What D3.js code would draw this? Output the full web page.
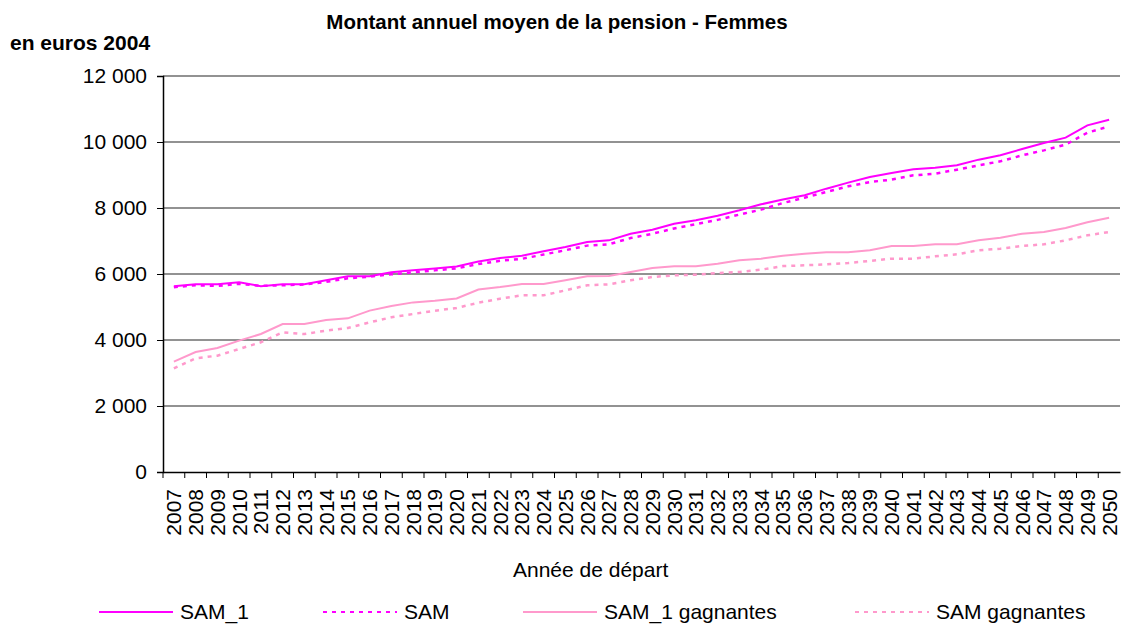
<!DOCTYPE html>
<html>
<head>
<meta charset="utf-8">
<script src="https://cdn.jsdelivr.net/npm/d3@7"></script>
<style>
  body { margin: 0; background: #fff; }
  svg { font-family: Arial, "Liberation Sans", sans-serif; }
</style>
</head>
<body>
<script>
// years on the x axis
var years = d3.range(2007, 2051).map(String);

// series values, euros 2004
var sam1 = [5630, 5690, 5690, 5750, 5630, 5690, 5690, 5810, 5930, 5930, 6050, 6110, 6170, 6230, 6380,
            6485, 6556, 6687, 6818, 6970, 7020, 7222, 7343, 7525, 7626, 7768, 7930, 8111, 8260,
            8384, 8586, 8768, 8940, 9061, 9172, 9222, 9293, 9465, 9596, 9788, 9970, 10131, 10505, 10677];
var sam = [5600, 5660, 5640, 5700, 5640, 5660, 5680, 5760, 5870, 5920, 5990, 6050, 6110, 6170, 6300,
           6400, 6460, 6590, 6720, 6860, 6900, 7090, 7220, 7380, 7510, 7640, 7800, 7950, 8150,
           8313, 8485, 8657, 8788, 8859, 8990, 9040, 9162, 9293, 9414, 9596, 9747, 9919, 10283, 10475];
var sam1Gagnantes = [3344, 3637, 3758, 3980, 4182, 4485, 4485, 4606, 4657, 4890, 5030, 5140, 5190, 5260, 5530,
                     5606, 5697, 5697, 5808, 5930, 5940, 6060, 6182, 6232, 6232, 6313, 6414, 6465, 6550,
                     6616, 6657, 6657, 6718, 6849, 6849, 6900, 6900, 7020, 7101, 7222, 7273, 7394, 7566, 7707];
var samGagnantes = [3142, 3445, 3525, 3728, 3930, 4232, 4180, 4283, 4364, 4535, 4687, 4788, 4889, 4970, 5130,
                    5253, 5354, 5354, 5505, 5657, 5687, 5808, 5909, 5960, 5980, 6030, 6060, 6131, 6240,
                    6263, 6293, 6334, 6394, 6465, 6465, 6535, 6596, 6718, 6768, 6849, 6900, 7020, 7172, 7273];

var yTicks = [0, 2000, 4000, 6000, 8000, 10000, 12000];

var series = [
  {name: "SAM_1", values: sam1, color: "#ff00ff", dash: null},
  {name: "SAM", values: sam, color: "#ff00ff", dash: "4,5"},
  {name: "SAM_1 gagnantes", values: sam1Gagnantes, color: "#ff99cc", dash: null},
  {name: "SAM gagnantes", values: samGagnantes, color: "#ff99cc", dash: "4,5"}
];
// legend layout (line start x)
var legendX = [99, 323, 523, 855];

var W = 1121, H = 624;
var plotL = 163, plotR = 1120, plotT = 76, plotB = 472;

var svg = d3.select("body").append("svg").attr("width", W).attr("height", H);

var x = d3.scaleBand().domain(years).range([plotL, plotR]);
var y = d3.scaleLinear().domain([0, 12000]).range([plotB, plotT]);

var fmt = function(v){ return d3.format(",")(v).replace(/,/g, " "); };

// gridlines
svg.append("g").selectAll("line").data(yTicks.filter(function(d){ return d > 0; }))
  .enter().append("line")
  .attr("x1", plotL).attr("x2", plotR)
  .attr("y1", function(d){ return y(d); }).attr("y2", function(d){ return y(d); })
  .attr("stroke", "#6e6e6e").attr("stroke-width", 1.5);

// y axis
var yAxis = svg.append("g").attr("transform", "translate(" + plotL + ",0)")
  .call(d3.axisLeft(y).tickValues(yTicks).tickFormat(fmt).tickSize(6).tickPadding(10));
yAxis.select(".domain").attr("stroke", "#000").attr("stroke-width", 1.5);
yAxis.selectAll(".tick line").attr("stroke", "#000");
yAxis.selectAll("text").style("font-size", "21px").attr("fill", "#000");

// x axis, ticks on band edges
var xAxis = svg.append("g").attr("transform", "translate(0," + plotB + ")")
  .call(d3.axisBottom(x).tickSize(0).tickSizeOuter(0));
xAxis.select(".domain").attr("stroke", "#000").attr("stroke-width", 1.5);
xAxis.selectAll("text")
  .style("font-size", "21px").attr("fill", "#000")
  .attr("text-anchor", "end")
  .attr("transform", "rotate(-90)")
  .attr("x", -17).attr("y", 0).attr("dy", "0.36em");
svg.append("g").selectAll("line").data(years)
  .enter().append("line")
  .attr("x1", function(d){ return x(d); }).attr("x2", function(d){ return x(d); })
  .attr("y1", plotB).attr("y2", plotB + 6)
  .attr("stroke", "#000");

// lines
var line = d3.line()
  .x(function(d, i){ return x(years[i]) + x.bandwidth() / 2; })
  .y(function(d){ return y(d); });

svg.append("g").selectAll("path").data(series.slice().reverse())
  .enter().append("path")
  .attr("d", function(s){ return line(s.values); })
  .attr("fill", "none")
  .attr("stroke", function(s){ return s.color; })
  .attr("stroke-width", function(s){ return s.dash ? 2.5 : 2; })
  .attr("stroke-dasharray", function(s){ return s.dash; });

// titles
svg.append("text").attr("x", 557).attr("y", 29).attr("text-anchor", "middle")
  .style("font-size", "20.5px").style("font-weight", "bold")
  .text("Montant annuel moyen de la pension - Femmes");
svg.append("text").attr("x", 10).attr("y", 50)
  .style("font-size", "21px").style("font-weight", "bold")
  .text("en euros 2004");
svg.append("text").attr("x", 513).attr("y", 577)
  .style("font-size", "21px")
  .text("Année de départ");

// legend
var leg = svg.append("g").selectAll("g").data(series).enter().append("g")
  .attr("transform", function(s, i){ return "translate(" + legendX[i] + ",612)"; });
leg.append("line").attr("x1", 0).attr("x2", 74)
  .attr("stroke", function(s){ return s.color; })
  .attr("stroke-width", 2)
  .attr("stroke-dasharray", function(s){ return s.dash; });
leg.append("text").attr("x", 81).attr("y", 7)
  .style("font-size", "21px")
  .text(function(s){ return s.name; });
</script>
</body>
</html>
